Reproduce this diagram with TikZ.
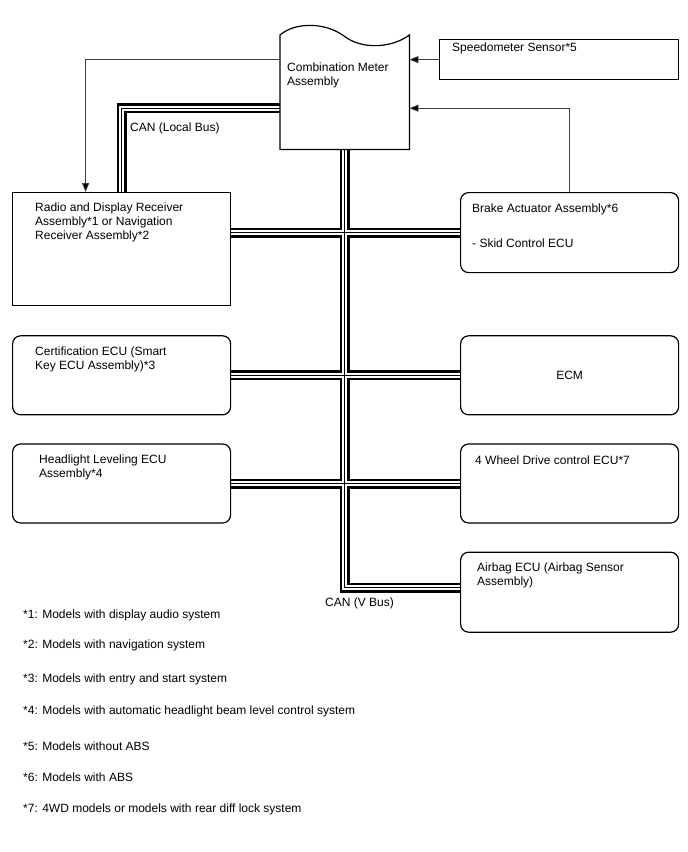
\documentclass[tikz,border=0pt]{standalone}
\usepackage{fontspec}
\setmainfont{Liberation Sans}
\usetikzlibrary{arrows.meta, positioning, backgrounds, calc}
\definecolor{wire}{HTML}{404040}
\tikzset{
  unit/.style={
    rectangle, rounded corners=8pt,
    minimum width=218pt, minimum height=79pt,
    draw=black, line width=1.2pt, inner sep=0pt,
    font=\fontsize{12}{14}\selectfont,
  },
  plainunit/.style={unit, sharp corners},
  tag/.style={anchor=north west, align=left, inner sep=0pt, font=\fontsize{12}{14}\selectfont},
  signal/.style={-{Triangle[length=9pt,width=7pt,fill=black]}, line width=0.8pt, color=wire},
  note/.style={anchor=west, inner sep=0pt, font=\fontsize{12}{14}\selectfont},
}
\begin{document}
\begin{tikzpicture}[x=1pt,y=-1pt]
  \useasboundingbox (0,0) rectangle (688,852);
  % meter and sensor
  \node[rectangle, minimum width=129pt, minimum height=114pt, inner sep=0pt, anchor=north west,
    label={[tag, xshift=7pt, yshift=-27.4pt]north west:{Combination Meter\\Assembly}}] (meter) at (280,35) {};
  \draw[line width=1.2pt] (meter.north west) .. controls (295,22) and (325,22) .. (344,36)
    .. controls (362,50) and (392,48) .. (meter.north east) -- (meter.south east)
    -- (meter.south west) -- cycle;
  \node[plainunit, minimum width=239pt, minimum height=40pt, anchor=north west,
    label={[tag, xshift=13pt, yshift=-3.4pt]north west:{Speedometer Sensor*5}}] (speed) at (439,39) {};
  % left column
  \node[plainunit, minimum height=113pt, anchor=north west,
    label={[tag, xshift=23pt, yshift=-11pt]north west:{Radio and Display Receiver\\Assembly*1 or Navigation\\Receiver Assembly*2}}] (radio) at (12,192) {};
  \node[unit, below=29pt of radio,
    label={[tag, xshift=23pt, yshift=-11.4pt]north west:{Certification ECU (Smart\\Key ECU Assembly)*3}}] (cert) {};
  \node[unit, below=28pt of cert,
    label={[tag, xshift=27pt, yshift=-11.4pt]north west:{Headlight Leveling ECU\\Assembly*4}}] (head) {};
  % right column
  \node[unit, minimum height=80pt, anchor=north west,
    label={[tag, xshift=12pt, yshift=-11.4pt]north west:{Brake Actuator Assembly*6\\[21pt]- Skid Control ECU}}] (brake) at (460,192) {};
  \node[unit, below=62pt of brake] (ecm) {ECM};
  \node[unit, below=28pt of ecm,
    label={[tag, xshift=15pt, yshift=-12.4pt]north west:{4 Wheel Drive control ECU*7}}] (fwd) {};
  \node[unit, minimum height=80pt, below=28pt of fwd,
    label={[tag, xshift=17pt, yshift=-11.4pt]north west:{Airbag ECU (Airbag Sensor\\Assembly)}}] (airbag) {};
  % CAN lines
  \begin{scope}[on background layer]
    \foreach \w/\c in {10pt/black, 5.4pt/white, 1.4pt/black} {
      \draw[line width=\w, color=\c] ([yshift=-16pt]meter.west) -| (radio.north);
      \draw[line width=\w, color=\c] (meter.south) |- ([yshift=4.5pt]airbag.west);
      \draw[line width=\w, color=\c] (radio.east |- brake.west) -- (brake.west);
      \draw[line width=\w, color=\c] (cert.east) -- (ecm.west);
      \draw[line width=\w, color=\c] (head.east) -- (fwd.west);
    }
  \end{scope}
  \node[note] (localbus) at (130,128) {CAN (Local Bus)};
  \node[note] (vbus) at (325,603) {CAN (V Bus)};
  % signal lines
  \draw[signal] (speed.west) -- (speed.west -| meter.east);
  \draw[signal] (brake.north) |- ([yshift=-16pt]meter.east);
  \draw[signal] (speed.west -| meter.west) -| ([xshift=-36pt]radio.north);
  % notes
  \foreach \k/\y/\txt in {1/615/{Models with display audio system},
      2/645/{Models with navigation system},
      3/679/{Models with entry and start system},
      4/711/{Models with automatic headlight beam level control system},
      5/746/{Models without ABS},
      6/777/{Models with ABS},
      7/809/{4WD models or models with rear diff lock system}} {
    \node[note] (fn\k) at (23,\y) {*\k: \txt};
  }
\end{tikzpicture}
\end{document}
